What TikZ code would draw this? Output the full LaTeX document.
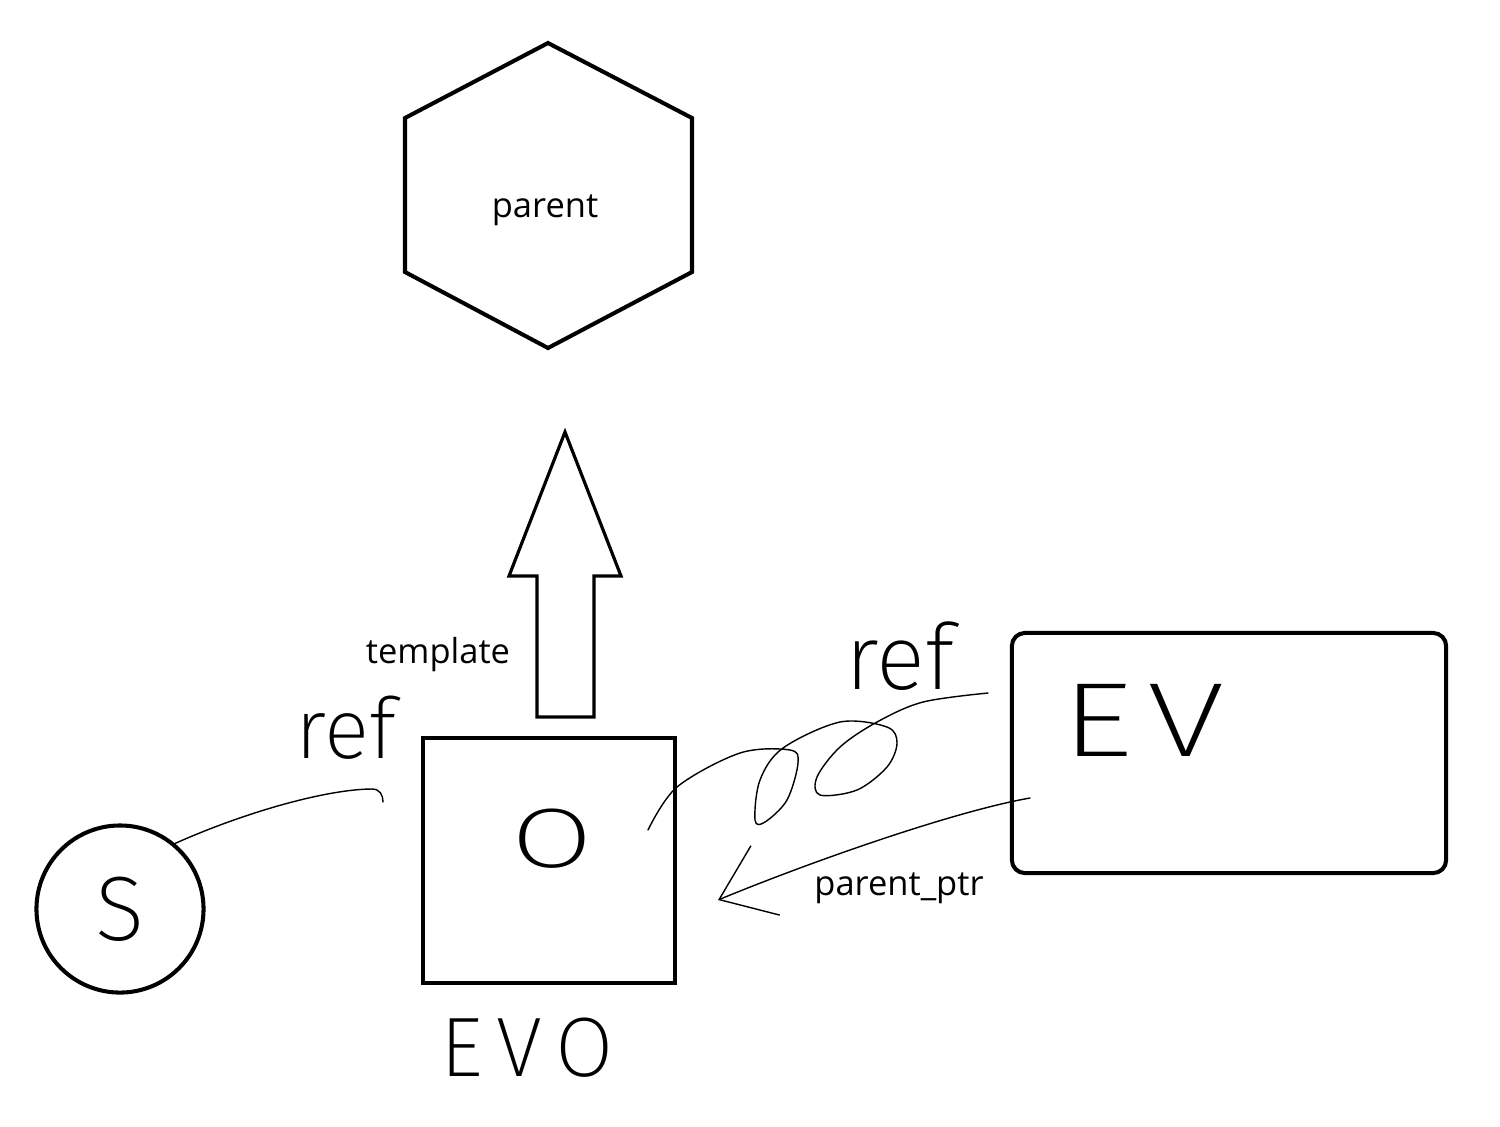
\documentclass[tikz,border=0pt]{standalone}
\usepackage{fontspec}
\setmainfont{Open Sans}
\newfontfamily\handfont{Fira Sans ExtraLight}
\usetikzlibrary{positioning,arrows.meta}
\tikzset{%
  thickShape/.style={%
    draw=black,
    line width=1.15pt
  },
  evoBox/.style={%
    thickShape,
    rectangle,
    minimum width=2.52cm,
    minimum height=2.45cm
  },
  evBox/.style={%
    thickShape,
    rectangle,
    rounded corners=0.13cm,
    minimum width=4.34cm,
    minimum height=2.4cm
  },
  sourceCircle/.style={%
    thickShape,
    circle,
    inner sep=0pt,
    minimum size=1.67cm
  },
  bigArrow/.style={%
    draw=black,
    line width=0.9pt,
    line join=miter
  },
  penLine/.style={%
    line width=0.4pt,
    line cap=round,
    line join=round
  },
  penArrow/.style={%
    penLine,
    -{Straight Barb[length=5mm,width=7.5mm]}
  },
  printLabel/.style={%
    inner sep=0pt,
    anchor=base,
    font=\fontsize{9.8}{11}\selectfont
  },
  handLabel/.style={%
    inner sep=0pt,
    font=\handfont\fontsize{24}{26}\selectfont
  }
}

\begin{document}
\begin{tikzpicture}[x=0.01cm,y=-0.01cm]
  \useasboundingbox (0,0) rectangle (1500,1126);

  % parent hexagon
  \draw[thickShape] (548,43) -- (692,118) -- (692,272) -- (548,348)
    -- (405,272) -- (405,118) -- cycle;
  \node[printLabel] (parent) at (545,217) {parent};

  % template arrow
  \draw[bigArrow] (565,432) -- (621,576) -- (594,576) -- (594,717)
    -- (537,717) -- (537,576) -- (509,576) -- cycle;
  \node[printLabel] (template) at (438,663) {template};

  % EVO box
  \node[evoBox] (evo) at (549,860.5) {};
  \node[handLabel] (oMark) at (552,839) {\scalebox{1.4}[1]{O}};
  \node[handLabel, below=0.32cm of evo, xshift=-0.22cm] (evoLabel)
    {\addfontfeature{LetterSpace=16}EVO};

  % S circle
  \node[sourceCircle, font=\handfont\fontsize{26}{28}\selectfont] (src) at (120,909) {S};
  \coordinate (srcEnd) at (383,802);
  \draw[penLine] (src.50) .. controls (250,810) and (330,789) .. (372,789)
    .. controls (380,789) and (383,795) .. (srcEnd);
  \node[handLabel] (refLeft) at (346,728) {ref};

  % EV box
  \node[evBox] (ev) at (1229,753) {};
  \node[handLabel, font=\handfont\fontsize{30}{32}\selectfont] (evLabel) at (1143,720)
    {\scalebox{1.35}[1]{\addfontfeature{LetterSpace=10}EV}};

  % ref loops
  \coordinate (loopStart) at (988,693);
  \coordinate (loopEnd) at (648,830);
  \draw[penLine] plot[smooth, tension=0.55] coordinates {(loopStart) (923,702)
    (877,722) (840,747) (817,777) (820,795) (857,790) (887,767) (897,743)
    (887,727) (840,722) (783,748) (760,780) (755,820) (765,822) (787,800)
    (798,763) (790,750) (740,753) (677,787) (loopEnd)};
  \node[handLabel, font=\handfont\fontsize{26}{28}\selectfont] (refRight) at (900,656) {ref};

  % parent pointer
  \coordinate (ptrStart) at (1030,798);
  \coordinate (ptrTip) at (718,900);
  \draw[penArrow] (ptrStart) .. controls (950,812) and (800,866) .. (ptrTip);
  \node[printLabel] (ptrLabel) at (899,895) {parent\_ptr};
\end{tikzpicture}
\end{document}
